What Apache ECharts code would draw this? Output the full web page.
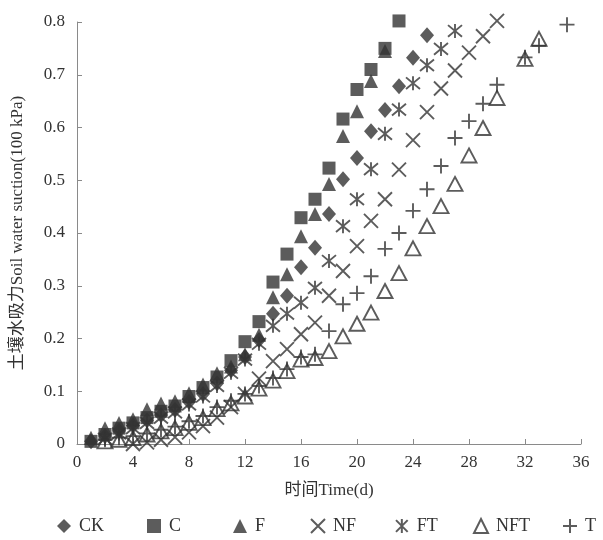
<!DOCTYPE html>
<html>
<head>
<meta charset="utf-8">
<script src="https://cdn.jsdelivr.net/npm/echarts@6/dist/echarts.min.js"></script>
<style>
  html, body { margin: 0; padding: 0; background: #fff; }
  #chart { width: 603px; height: 540px; }
</style>
</head>
<body>
<div id="chart"></div>
<script>
  // 各处理土壤水吸力 (100 kPa)，按天读取
  var ckDays = [1, 2, 3, 4, 5, 6, 7, 8, 9, 10, 11, 12, 13, 14, 15, 16, 17, 18, 19, 20, 21, 22, 23, 24, 25];
  var ckVals = [0.005, 0.015, 0.025, 0.035, 0.045, 0.055, 0.065, 0.08, 0.095, 0.115, 0.14, 0.165, 0.197, 0.247, 0.281, 0.335, 0.372, 0.436, 0.502, 0.542, 0.593, 0.633, 0.678, 0.732, 0.775];

  var cDays = [1, 2, 3, 4, 5, 6, 7, 8, 9, 10, 11, 12, 13, 14, 15, 16, 17, 18, 19, 20, 21, 22, 23];
  var cVals = [0.005, 0.018, 0.03, 0.04, 0.05, 0.062, 0.072, 0.09, 0.107, 0.127, 0.158, 0.194, 0.232, 0.307, 0.36, 0.429, 0.464, 0.523, 0.616, 0.672, 0.71, 0.75, 0.802];

  var fDays = [1, 2, 3, 4, 5, 6, 7, 8, 9, 10, 11, 12, 13, 14, 15, 16, 17, 18, 19, 20, 21, 22];
  var fVals = [0.012, 0.03, 0.04, 0.047, 0.066, 0.077, 0.081, 0.096, 0.113, 0.134, 0.147, 0.17, 0.207, 0.278, 0.322, 0.394, 0.436, 0.493, 0.584, 0.631, 0.688, 0.745];

  var nfDays = [4, 5, 6, 7, 8, 9, 10, 11, 12, 13, 14, 15, 16, 17, 18, 19, 20, 21, 22, 23, 24, 25, 26, 27, 28, 29, 30];
  var nfVals = [0.0, 0.003, 0.008, 0.013, 0.022, 0.034, 0.05, 0.07, 0.095, 0.124, 0.157, 0.18, 0.208, 0.23, 0.281, 0.328, 0.375, 0.423, 0.464, 0.52, 0.576, 0.629, 0.674, 0.708, 0.742, 0.773, 0.802];

  var ftDays = [2, 3, 4, 5, 6, 7, 8, 9, 10, 11, 12, 13, 14, 15, 16, 17, 18, 19, 20, 21, 22, 23, 24, 25, 26, 27];
  var ftVals = [0.01, 0.02, 0.03, 0.04, 0.05, 0.06, 0.075, 0.09, 0.11, 0.135, 0.16, 0.19, 0.224, 0.247, 0.268, 0.296, 0.347, 0.413, 0.464, 0.521, 0.588, 0.634, 0.684, 0.718, 0.749, 0.783];

  var nftDays = [2, 3, 4, 5, 6, 7, 8, 9, 10, 11, 12, 13, 14, 15, 16, 17, 18, 19, 20, 21, 22, 23, 24, 25, 26, 27, 28, 29, 30, 32, 33];
  var nftVals = [0.005, 0.008, 0.011, 0.018, 0.024, 0.03, 0.04, 0.049, 0.066, 0.077, 0.09, 0.105, 0.12, 0.138, 0.16, 0.163, 0.176, 0.204, 0.228, 0.249, 0.29, 0.324, 0.371, 0.413, 0.451, 0.493, 0.547, 0.599, 0.656, 0.73, 0.768];

  var tDays = [2, 3, 4, 5, 6, 7, 8, 9, 10, 11, 12, 13, 14, 15, 16, 17, 18, 19, 20, 21, 22, 23, 24, 25, 26, 27, 28, 29, 30, 32, 33, 35];
  var tVals = [0.008, 0.012, 0.015, 0.02, 0.027, 0.033, 0.043, 0.053, 0.07, 0.082, 0.095, 0.11, 0.125, 0.142, 0.165, 0.17, 0.214, 0.265, 0.286, 0.318, 0.37, 0.4, 0.442, 0.483, 0.527, 0.58, 0.612, 0.645, 0.681, 0.733, 0.755, 0.795];

  var xTicks = [0, 4, 8, 12, 16, 20, 24, 28, 32, 36];

  var chart = null;
  var markColor = '#333';
  var font = "'Liberation Serif', 'Noto Sans CJK SC', serif";

  function zip (days, vals) {
    var out = [];
    days.forEach(function (d, i) {
      out.push([d, vals[i]]);
    });
    return out;
  }

  // 线条型符号
  var symX = 'path://M0,0L10,10M10,0L0,10';
  var symStar = 'path://M0,0L10,10M10,0L0,10M5,-1L5,11';
  var symPlus = 'path://M5,0L5,10M0,5L10,5';

  var seriesDefs = [
    { name: 'CK', days: ckDays, vals: ckVals, symbol: 'diamond', size: [14, 16], filled: true },
    { name: 'C', days: cDays, vals: cVals, symbol: 'rect', size: 13, filled: true },
    { name: 'F', days: fDays, vals: fVals, symbol: 'triangle', size: [14, 14], filled: true },
    { name: 'NF', days: nfDays, vals: nfVals, symbol: symX, size: 14, filled: false },
    { name: 'FT', days: ftDays, vals: ftVals, symbol: symStar, size: 14, filled: false },
    { name: 'NFT', days: nftDays, vals: nftVals, symbol: 'triangle', size: [15, 14], filled: false },
    { name: 'T', days: tDays, vals: tVals, symbol: symPlus, size: 15, filled: false }
  ];

  // 图例每项的左侧位置
  var legendLefts = [52, 142, 228, 305, 390, 468, 557];

  var series = seriesDefs.map(function (s) {
    return {
      name: s.name,
      type: 'scatter',
      symbol: s.symbol,
      symbolSize: s.size,
      clip: false,
      data: zip(s.days, s.vals),
      itemStyle: s.filled ? {
        color: markColor
      } : {
        color: 'rgba(0,0,0,0)',
        borderColor: markColor,
        borderWidth: 1.9
      },
      emphasis: { disabled: true }
    };
  });

  var legends = seriesDefs.map(function (s, i) {
    return {
      data: [s.name],
      left: legendLefts[i],
      top: 512,
      itemWidth: 14,
      itemHeight: 14,
      selectedMode: false,
      textStyle: {
        fontFamily: font,
        fontSize: 18,
        color: '#333',
        padding: [0, 0, 0, 3]
      }
    };
  });

  var option = {
    animation: false,
    backgroundColor: '#fff',
    textStyle: { fontFamily: font },
    grid: {
      left: 77,
      right: 22,
      top: 22,
      bottom: 96,
      containLabel: false
    },
    legend: legends,
    xAxis: {
      type: 'value',
      min: 0,
      max: 36,
      interval: 4,
      name: '时间Time(d)',
      nameLocation: 'middle',
      nameGap: 38,
      nameTextStyle: { fontFamily: font, fontSize: 17, color: '#333' },
      axisLine: { lineStyle: { color: '#8a8a8a', width: 1 } },
      axisTick: { inside: true, length: 5, lineStyle: { color: '#8a8a8a' } },
      axisLabel: {
        margin: 10,
        fontFamily: font,
        fontSize: 17,
        color: '#333',
        customValues: xTicks
      },
      splitLine: { show: false }
    },
    yAxis: {
      type: 'value',
      min: 0,
      max: 0.8,
      interval: 0.1,
      name: '土壤水吸力Soil water suction(100 kPa)',
      nameLocation: 'middle',
      nameGap: 51,
      nameTextStyle: { fontFamily: font, fontSize: 17, color: '#333' },
      axisLine: { show: true, lineStyle: { color: '#8a8a8a', width: 1 } },
      axisTick: { show: true, inside: true, length: 5, lineStyle: { color: '#8a8a8a' } },
      axisLabel: {
        margin: 12,
        fontFamily: font,
        fontSize: 17,
        color: '#333'
      },
      splitLine: { show: false }
    },
    series: series
  };

  chart = echarts.init(document.getElementById('chart'), null, { width: 603, height: 540 });
  chart.setOption(option);
</script>
</body>
</html>
